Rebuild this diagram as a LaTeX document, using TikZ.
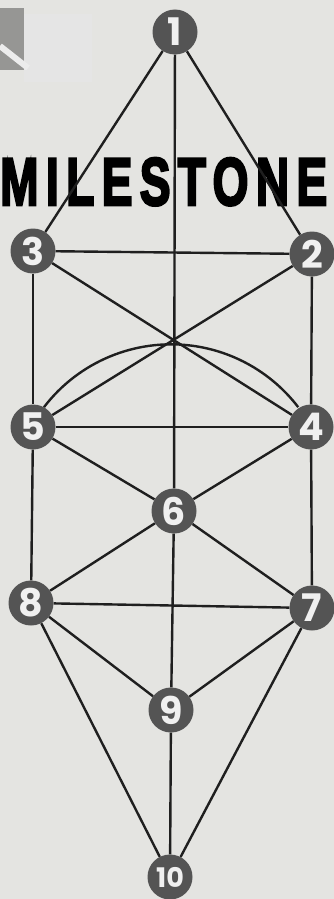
\documentclass[tikz,border=0pt]{standalone}
\usepackage{fontspec}
\setmainfont{Liberation Sans}
\newfontfamily\numfont{Poppins}
\newfontfamily\titlefont{Liberation Sans}[FakeBold=4, LetterSpace=16]
\definecolor{paper}{RGB}{228,228,225}
\definecolor{disc}{RGB}{84,84,84}
\definecolor{smudge}{RGB}{150,150,148}
\begin{document}
\begin{tikzpicture}[x=1pt,y=-1pt,
  stone/.style={circle, fill=disc, minimum size=45pt, inner sep=0pt, text=white!94!black,
    font=\numfont\bfseries\fontsize{38}{38}\selectfont},
  smallstone/.style={stone, font=\numfont\bfseries\fontsize{27}{27}\selectfont},
  link/.style={line width=2.4pt, black!88},
  title/.style={inner sep=0pt, anchor=base west, text=black}]
\fill[paper] (0,0) rectangle (334,899);
\useasboundingbox (0,0) rectangle (334,899);
% faded print at top-left
\fill[black!10] (24,14) rectangle (92,82);
\fill[smudge] (0,8) rectangle (24,70);
\draw[white!85!gray, line width=6pt] (0,46) -- (28,68);

% nodes
\node[stone] (n1) at (175,32) {1};
\node[stone] (n3) at (33,251) {3};
\node[stone] (n2) at (312,254) {2};
\node[stone] (n5) at (33,427) {5};
\node[stone] (n4) at (311,427) {4};
\node[stone] (n6) at (174,511) {6};
\node[stone] (n8) at (31,603) {8};
\node[stone] (n7) at (312,608) {7};
\node[stone] (n9) at (171,710) {9};
\node[smallstone] (n10) at (170,877) {10};

% title
\node[title] (ttl) at (0,205) {\resizebox{327pt}{47pt}{\titlefont\bfseries MILESTONE}};

% connectors
\draw[link] (n1) -- (n3);
\draw[link] (n1) -- (n2);
\draw[link] (n1) -- (n6);
\draw[link] (n3) -- (n2);
\draw[link] (n3) -- (n5);
\draw[link] (n2) -- (n4);
\draw[link] (n3) -- (n4);
\draw[link] (n2) -- (n5);
\draw[link] (n5.61) arc[start angle=217.4, end angle=322.6, radius=160];
\draw[link] (n5) -- (n4);
\draw[link] (n5) -- (n6);
\draw[link] (n4) -- (n6);
\draw[link] (n5) -- (n8);
\draw[link] (n4) -- (n7);
\draw[link] (n6) -- (n8);
\draw[link] (n6) -- (n7);
\draw[link] (n6) -- (n9);
\draw[link] (n8) -- (n7);
\draw[link] (n8) -- (n9);
\draw[link] (n7) -- (n9);
\draw[link] (n8) -- (n10);
\draw[link] (n7) -- (n10);
\draw[link] (n9) -- (n10);
\end{tikzpicture}
\end{document}
